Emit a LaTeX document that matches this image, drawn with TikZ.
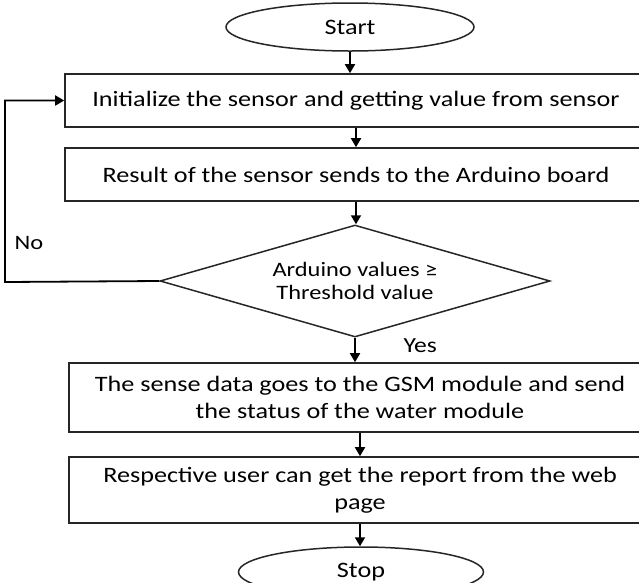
\documentclass[tikz,border=0pt]{standalone}
\usepackage{fontspec}
\setmainfont{Carlito}[FakeStretch=1.19]
\usetikzlibrary{shapes.geometric,arrows.meta}

\begin{document}
\begin{tikzpicture}[x=1pt,y=-1pt,
    box/.style={draw=black!85,line width=1.6pt,rectangle,minimum width=582pt,
        align=center,font=\fontsize{22}{27}\selectfont},
    term/.style={draw=black!85,line width=1.5pt,ellipse,font=\fontsize{22}{27}\selectfont},
    flow/.style={-{Triangle[length=9pt,width=10pt]},line width=1.8pt}]
    \clip (0,0) rectangle (639,582);
    \node [term,minimum width=248pt,minimum height=48pt] (start) at (350,27) {Start};
    \node [box,minimum height=53pt] (init) at (356,100.5)
    {Initialize the sensor and getting value from sensor};
    \node [box,minimum height=53pt] (result) at (356,174.5)
    {Result of the sensor sends to the Arduino board};
    \node [draw=black!85,line width=1.5pt,diamond,aspect=3.5,inner sep=0pt,
    minimum width=390pt,minimum height=112pt,align=center,
    font=\fontsize{20.5}{23}\selectfont] (check) at (355,281)
    {Arduino values ≥\\Threshold value};
    \node [box,minimum height=69pt] (gsm) at (360,397.5)
    {The sense data goes to the GSM module and send\\the status of the water module};
    \node [box,minimum height=66pt] (report) at (360,490)
    {Respective user can get the report from the web\\page};
    \node [term,minimum width=245pt,minimum height=50pt] (stop) at (361,572) {Stop};
    \coordinate (loop) at (5,282);
    \node [anchor=west,font=\fontsize{20.5}{24}\selectfont] (no) at (11,243) {No};
    \node [anchor=west,font=\fontsize{21.5}{25}\selectfont] (yes) at (400,346) {Yes};

    \draw [flow] (start.south) -- (start.south |- init.north);
    \draw [flow] (init.south) -- (result.north);
    \draw [flow] (result.south) -- (result.south |- check.north);
    \draw [flow] (check.south) -- (check.south |- gsm.north);
    \draw [flow] (gsm.south) -- (report.north);
    \draw [flow] (report.south) -- (report.south |- stop.north);
    \draw [flow] (check.west) -- (loop) |- (init.west);
\end{tikzpicture}
\end{document}
